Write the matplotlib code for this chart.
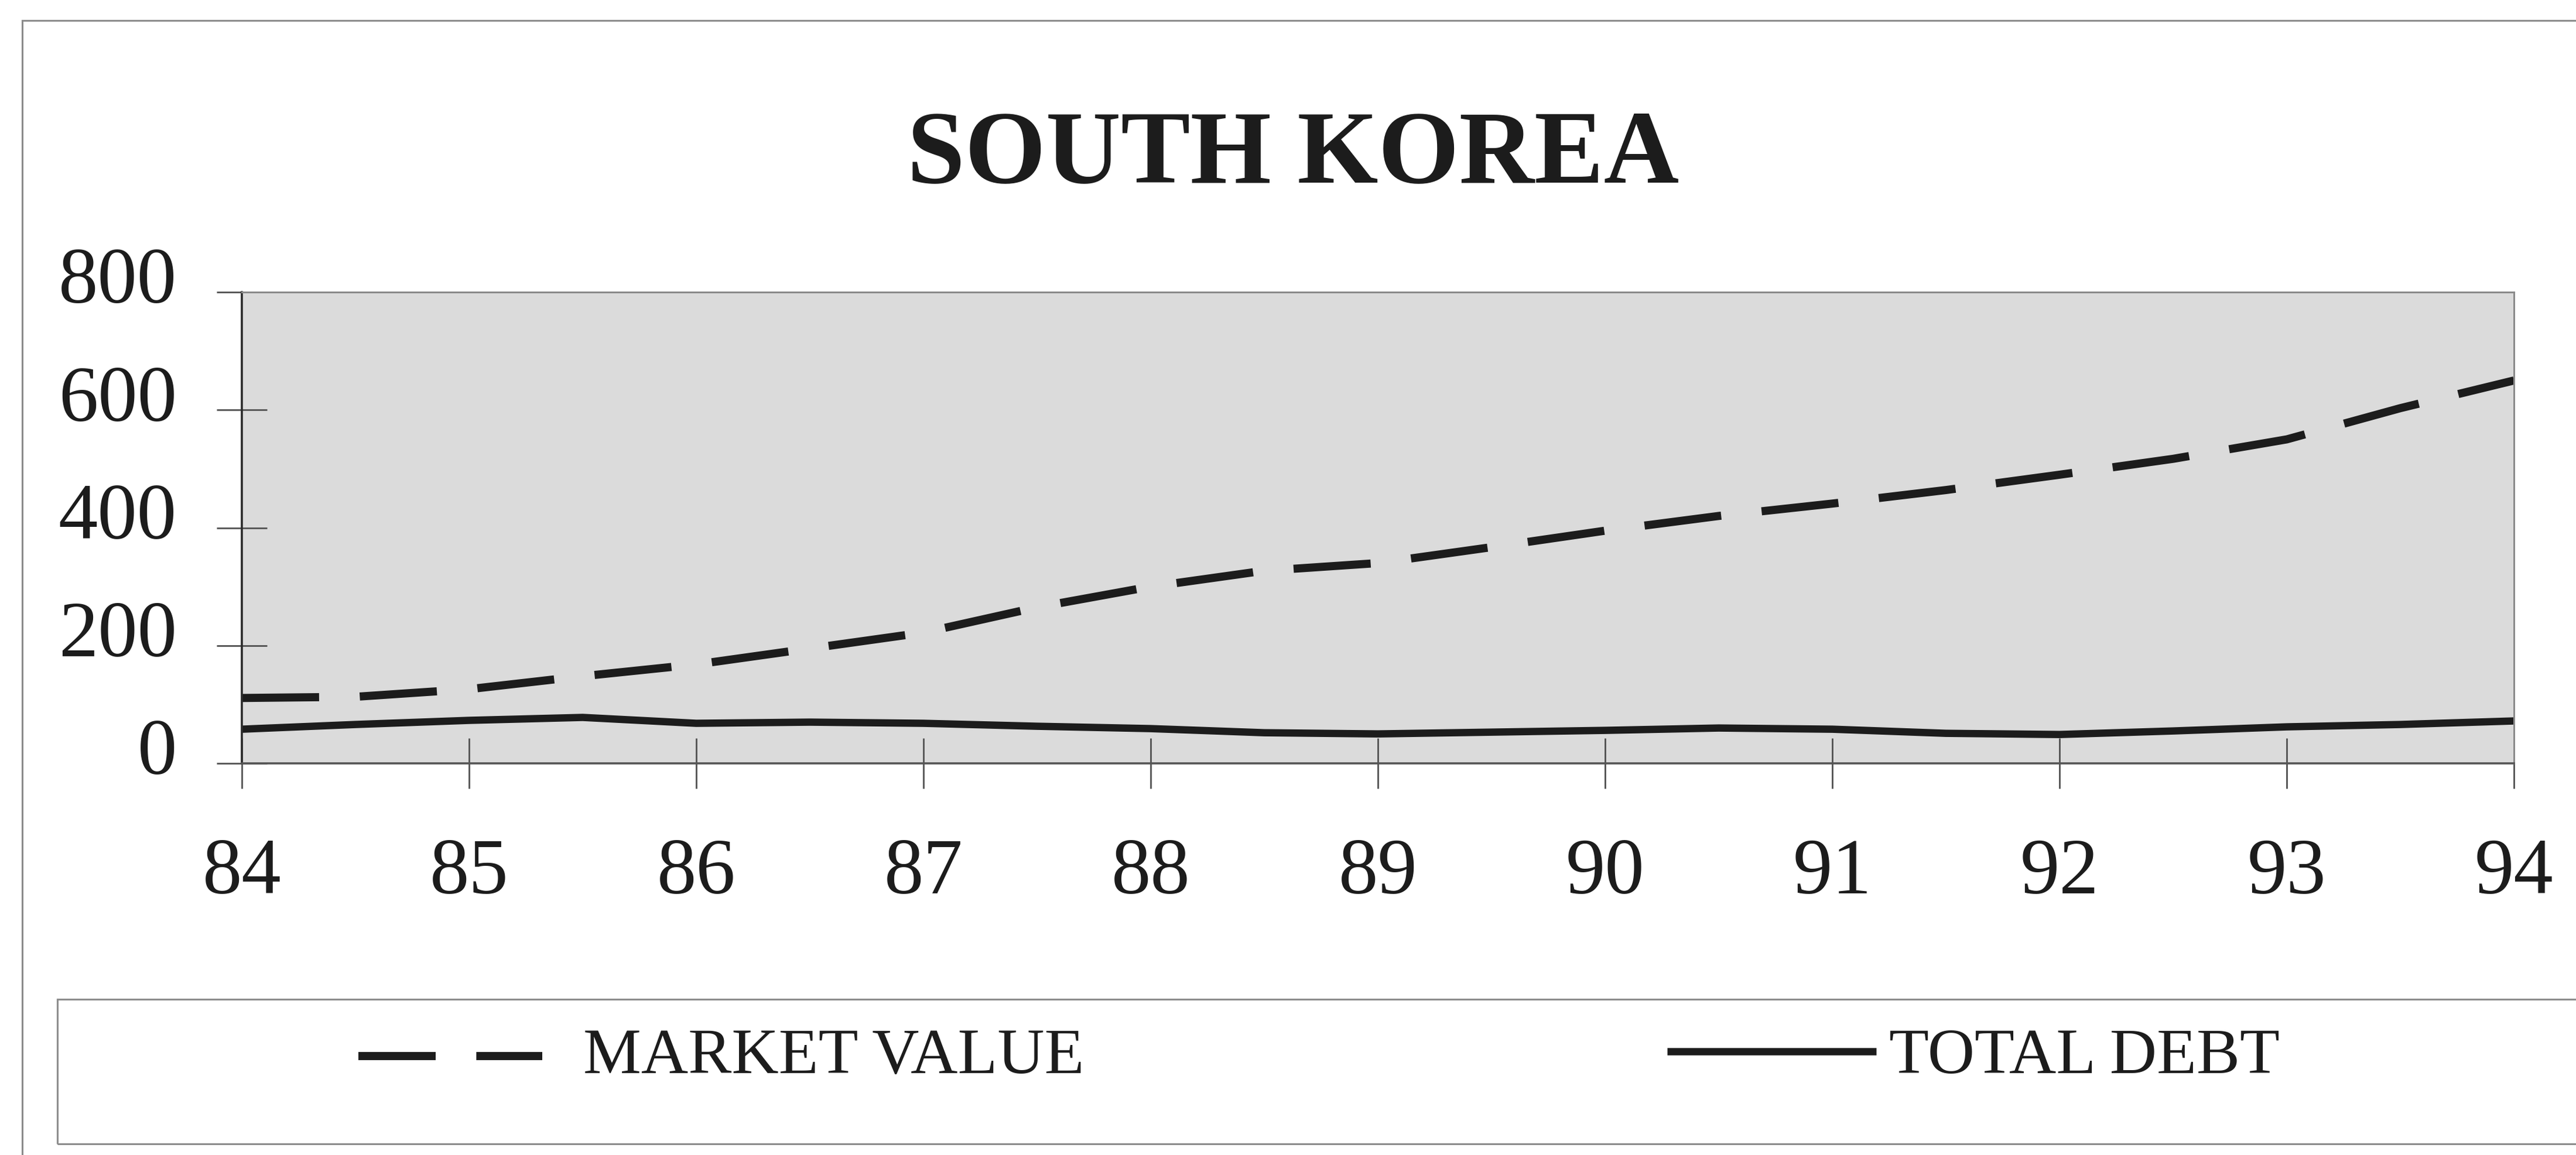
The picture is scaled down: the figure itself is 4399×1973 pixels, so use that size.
import matplotlib
matplotlib.use("Agg")
import matplotlib.pyplot as plt
import matplotlib.transforms as mtransforms
from matplotlib.lines import Line2D
from matplotlib.patches import Rectangle

# half-year readings, 1984-1994
years = [84, 84.5, 85, 85.5, 86, 86.5, 87, 87.5, 88, 88.5, 89,
         89.5, 90, 90.5, 91, 91.5, 92, 92.5, 93, 93.5, 94]
market_value = [111, 113, 126, 148, 168, 195, 222, 265, 300, 327, 340,
                367, 395, 420, 441, 464, 490, 517, 550, 603, 650]
total_debt = [58, 66, 73, 78, 68, 70, 68, 63, 59, 52, 50,
              53, 56, 60, 58, 51, 49, 55, 62, 66, 72]

x_ticks = list(range(84, 95))
y_ticks = [0, 200, 400, 600, 800]
title = "SOUTH KOREA"
series_names = ["MARKET VALUE", "TOTAL DEBT"]

W, H, DPI = 4399, 1974, 100
SERIF = "Liberation Serif"
INK = "#1c1c1c"
DASH = (0, (9.5, 5))


def fx(px):
    return px / W


def fy(py):
    return 1 - py / H


fig = plt.figure(figsize=(W / DPI, H / DPI), dpi=DPI, facecolor="white")

# page frame around the whole exhibit
fig.add_artist(Rectangle((fx(38), fy(2100)), fx(4500), (2100 - 36) / H,
                         transform=fig.transFigure, fill=False,
                         edgecolor="#8c8c8c", lw=2.2))

ax = fig.add_axes([fx(413), fy(1305), fx(4293 - 413), (1305 - 500) / H])
ax.set_facecolor("#dbdbdb")

ax.plot(years, market_value, color=INK, lw=10, ls=DASH,
        dash_capstyle="butt", solid_joinstyle="round")
ax.plot(years, total_debt, color=INK, lw=9, solid_capstyle="butt")

ax.set_xlim(84, 94)
ax.set_ylim(0, 800)
ax.set_xticks(x_ticks)
ax.set_xticklabels([str(v) for v in x_ticks])
ax.set_yticks(y_ticks)
ax.set_yticklabels([str(v) for v in y_ticks])

ax.tick_params(axis="both", direction="inout", length=62, width=2,
               color="#505050", labelsize=97, labelcolor=INK)
ax.tick_params(axis="x", pad=60)
ax.tick_params(axis="y", pad=49)
for lab in ax.get_xticklabels() + ax.get_yticklabels():
    lab.set_fontfamily(SERIF)

# value labels sit a little above their tick marks
lift = mtransforms.ScaledTranslation(0, 30 / DPI, fig.dpi_scale_trans)
for lab in ax.get_yticklabels():
    lab.set_transform(lab.get_transform() + lift)

ax.spines["left"].set_color("#2a2a2a")
ax.spines["left"].set_linewidth(2.6)
ax.spines["bottom"].set_color("#555555")
ax.spines["bottom"].set_linewidth(2.6)
for side in ("top", "right"):
    ax.spines[side].set_color("#8a8a8a")
    ax.spines[side].set_linewidth(2.2)

fig.text(fx(2208), fy(312), title, ha="center", va="baseline",
         fontsize=128, fontweight="bold", family=SERIF, color=INK)

# legend strip
fig.add_artist(Rectangle((fx(98), fy(1955)), fx(4500), (1955 - 1708) / H,
                         transform=fig.transFigure, fill=False,
                         edgecolor="#8c8c8c", lw=2.2))
fig.add_artist(Line2D([fx(612), fx(926)], [fy(1805), fy(1805)],
                      transform=fig.transFigure, color=INK, lw=10,
                      ls=DASH, dash_capstyle="butt"))
fig.add_artist(Line2D([fx(2847), fx(3204)], [fy(1797), fy(1797)],
                      transform=fig.transFigure, color=INK, lw=9,
                      solid_capstyle="butt"))
fig.text(fx(996), fy(1833), series_names[0], ha="left", va="baseline",
         fontsize=80, family=SERIF, color=INK)
fig.text(fx(3226), fy(1833), series_names[1], ha="left", va="baseline",
         fontsize=80, family=SERIF, color=INK)

fig.savefig("out.png", dpi=DPI, facecolor="white")
